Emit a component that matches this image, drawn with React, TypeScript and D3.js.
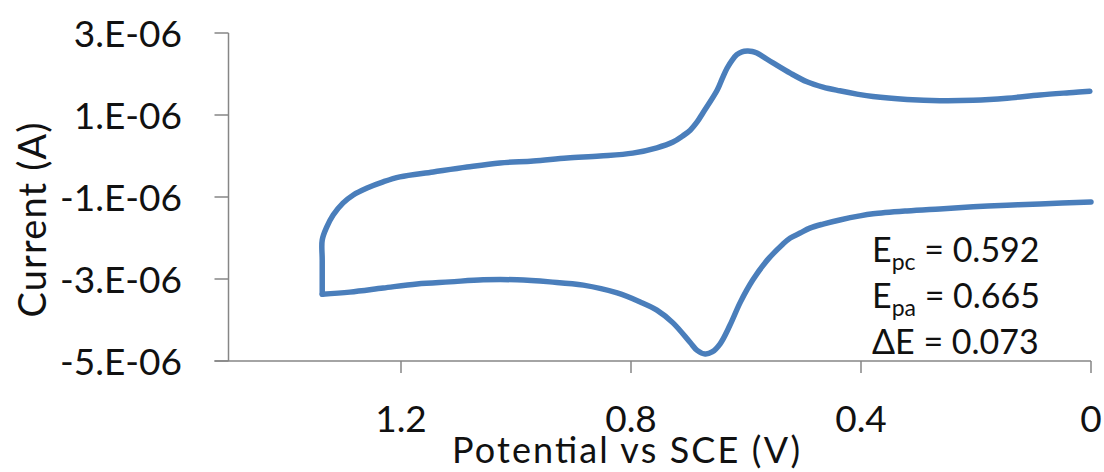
import React from "react";
import * as d3 from "d3";

// Anodic sweep (lower branch), 0 V -> switching potential
const lowerPotential = [0.0, 0.089, 0.146, 0.205, 0.263, 0.32, 0.379, 0.402, 0.437, 0.466, 0.489, 0.506, 0.523, 0.536, 0.563, 0.588, 0.61, 0.628, 0.645, 0.659, 0.671, 0.685, 0.697, 0.727, 0.755, 0.784, 0.824, 0.883, 0.941, 0.998, 1.057, 1.115, 1.172, 1.231, 1.289, 1.337];
const lowerCurrentMicroA = [-1.12, -1.17, -1.2, -1.24, -1.29, -1.34, -1.41, -1.46, -1.56, -1.66, -1.76, -1.88, -2.0, -2.15, -2.54, -3.02, -3.57, -4.13, -4.58, -4.78, -4.83, -4.74, -4.55, -4.07, -3.76, -3.56, -3.34, -3.15, -3.07, -3.02, -3.02, -3.07, -3.12, -3.22, -3.32, -3.37];

// Cathodic sweep (upper branch), switching potential -> 0 V
const upperPotential = [1.337, 1.337, 1.329, 1.318, 1.301, 1.283, 1.259, 1.231, 1.202, 1.144, 1.085, 1.028, 0.97, 0.911, 0.854, 0.797, 0.755, 0.727, 0.71, 0.697, 0.685, 0.675, 0.65, 0.641, 0.633, 0.624, 0.616, 0.607, 0.598, 0.589, 0.581, 0.553, 0.523, 0.494, 0.466, 0.437, 0.407, 0.379, 0.32, 0.263, 0.205, 0.146, 0.089, 0.031, 0.002];
const upperCurrentMicroA = [-2.54, -2.05, -1.73, -1.44, -1.15, -0.95, -0.78, -0.63, -0.51, -0.39, -0.27, -0.17, -0.12, -0.05, 0.0, 0.07, 0.2, 0.34, 0.49, 0.63, 0.83, 1.05, 1.61, 1.9, 2.14, 2.34, 2.47, 2.54, 2.56, 2.55, 2.51, 2.27, 2.02, 1.81, 1.68, 1.59, 1.51, 1.45, 1.38, 1.35, 1.36, 1.41, 1.49, 1.55, 1.58];

const xTicks = [1.2, 0.8, 0.4, 0];
const yTicks = [-5e-6, -3e-6, -1e-6, 1e-6, 3e-6];

const annotations = [
  { main: "E", sub: "pc", value: " = 0.592" },
  { main: "E", sub: "pa", value: " = 0.665" },
  { main: "\u0394E", sub: "", value: " = 0.073" },
];

const W = 1104;
const H = 472;
const FONT = "Lato, 'Open Sans', sans-serif";

export default function App() {
  const x = d3.scaleLinear().domain([1.5, 0]).range([228.5, 1091]);
  const y = d3.scaleLinear().domain([-5e-6, 3e-6]).range([361, 33]);

  const lowerPts: [number, number][] = lowerPotential.map((p, i) => [p, lowerCurrentMicroA[i] * 1e-6]);
  const upperPts: [number, number][] = [
    lowerPts[lowerPts.length - 1],
    ...upperPotential.map((p, i) => [p, upperCurrentMicroA[i] * 1e-6] as [number, number]),
  ];

  const line = d3
    .line<[number, number]>()
    .x((d) => x(d[0]))
    .y((d) => y(d[1]))
    .curve(d3.curveCatmullRom.alpha(0.5));

  const fmtY = (v: number) => `${Math.round(v * 1e6)}.E-06`;
  const fmtX = (v: number) => (v === 0 ? "0" : d3.format(".1f")(v));
  const axisColor = "#868686";
  const x0 = x.range()[0];
  const x1 = x.range()[1];
  const yb = y.range()[0];
  const yt = y.range()[1];
  const lineColor = "#4A7EBB";

  return (
    <svg
      width={W}
      height={H}
      style={{ position: "absolute", left: 0, top: 0, background: "#fff" }}
      fontFamily={FONT}
    >
      <rect x={0} y={0} width={W} height={H} fill="#fff" />
      {/* y axis */}
      <line x1={x0} x2={x0} y1={yt} y2={yb} stroke={axisColor} strokeWidth={1.5} />
      {yTicks.map((t) => (
        <g key={t}>
          <line x1={x0 - 14} x2={x0} y1={y(t)} y2={y(t)} stroke={axisColor} strokeWidth={1.5} />
          <text x={182} y={y(t) + 13.5} textAnchor="end" fontSize={37} fill="#111">
            {fmtY(t)}
          </text>
        </g>
      ))}
      {/* x axis */}
      <line x1={x0 - 14} x2={x1} y1={yb} y2={yb} stroke={axisColor} strokeWidth={1.5} />
      {xTicks.map((t) => (
        <g key={t}>
          <line x1={x(t)} x2={x(t)} y1={yb} y2={yb + 12} stroke={axisColor} strokeWidth={1.5} />
          <text x={x(t)} y={432} textAnchor="middle" fontSize={37} fill="#111">
            {fmtX(t)}
          </text>
        </g>
      ))}
      {/* data */}
      <path d={line(lowerPts) || ""} fill="none" stroke={lineColor} strokeWidth={5.5} strokeLinejoin="round" strokeLinecap="round" />
      <path d={line(upperPts) || ""} fill="none" stroke={lineColor} strokeWidth={5.5} strokeLinejoin="round" strokeLinecap="round" />
      {/* axis titles */}
      <text x={626} y={463} textAnchor="middle" fontSize={36} fill="#111" textLength={348} lengthAdjust="spacing">
        Potential vs SCE (V)
      </text>
      <text
        transform="translate(46,220) rotate(-90)"
        textAnchor="middle"
        fontSize={38}
        fill="#111"
        textLength={195}
        lengthAdjust="spacing"
      >
        Current (A)
      </text>
      {/* annotations */}
      {annotations.map((a, i) => (
        <text key={i} x={872} y={262 + i * 46} fontSize={34} fill="#111">
          {a.main}
          {a.sub ? (
            <>
              <tspan fontSize={23} dy={8}>
                {a.sub}
              </tspan>
              <tspan dy={-8}>{a.value}</tspan>
            </>
          ) : (
            <tspan>{a.value}</tspan>
          )}
        </text>
      ))}
    </svg>
  );
}
